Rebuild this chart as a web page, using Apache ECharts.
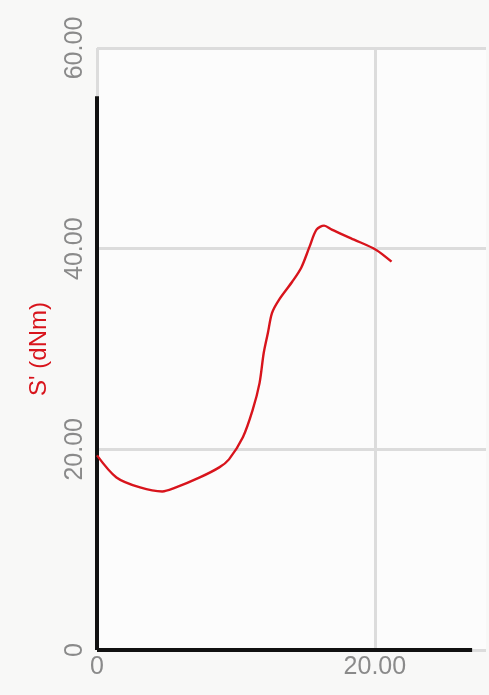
<!DOCTYPE html>
<html><head><meta charset="utf-8">
<script src="https://cdn.jsdelivr.net/npm/echarts@6/dist/echarts.min.js"></script>
<style>html,body{margin:0;padding:0;background:#f8f8f7;overflow:hidden}#c{width:489px;height:695px}</style>
</head><body><div id="c"></div>
<script>
const timeMin = [0, 1.4, 3.1, 4.7, 5.5, 7.4, 8.8, 9.5, 10.5, 11.2, 11.7, 12.0, 12.3, 12.6, 13.1, 14.05, 14.7, 15.3, 15.8, 16.35, 16.9, 18.5, 20.07, 21.2];
const torque  = [19.4, 17.2, 16.2, 15.8, 16.1, 17.2, 18.2, 19.0, 21.2, 23.9, 26.6, 29.6, 31.6, 33.6, 34.9, 36.7, 38.1, 40.2, 41.9, 42.3, 41.9, 40.9, 39.9, 38.7];
const yTicks = [0, 20, 40, 60];
const xTicks = [0, 20];
const yName = "S' (dNm)";

const chart = echarts.init(document.getElementById('c'));
const pts = timeMin.map((t, i) => [t, torque[i]]);
const gray = { color: '#dcdcdc', width: 3, type: 'solid' };
const black = { color: '#111', width: 4, type: 'solid' };
chart.setOption({
  backgroundColor: '#f8f8f7',
  animation: false,
  grid: { left: 97, right: 0, top: 48, bottom: 45, show: true, backgroundColor: '#fcfcfc', borderWidth: 0, borderColor: 'transparent' },
  xAxis: {
    type: 'value', min: 0, max: 28, interval: 20,
    axisLine: { show: false }, axisTick: { show: false },
    axisLabel: { color: '#8a8a8a', fontSize: 25, fontFamily: 'Liberation Sans', margin: 5,
      formatter: v => xTicks.includes(v) ? (v === 0 ? '0' : v.toFixed(2)) : '' },
    splitLine: { show: false }
  },
  yAxis: {
    type: 'value', min: 0, max: 60, interval: 20,
    name: yName, nameLocation: 'middle', nameGap: 46,
    nameTextStyle: { color: '#d8141c', fontSize: 24, fontFamily: 'Liberation Sans' },
    axisLine: { show: false }, axisTick: { show: false },
    axisLabel: { rotate: 90, color: '#8a8a8a', fontSize: 25, fontFamily: 'Liberation Sans', margin: 9,
      formatter: v => yTicks.includes(v) ? (v === 0 ? '0' : v.toFixed(2)) : '' },
    splitLine: { show: true, lineStyle: { color: '#dcdcdc', width: 3 } }
  },
  series: [{
    type: 'line', data: pts, smooth: 0.3, showSymbol: false, z: 3,
    lineStyle: { color: '#d8141c', width: 2.4 },
    markLine: {
      silent: true, symbol: 'none', label: { show: false }, z: 2,
      data: [
        [{ coord: [xTicks[0], 0], lineStyle: gray }, { coord: [xTicks[0], 60] }],
        [{ coord: [xTicks[1], 0], lineStyle: gray }, { coord: [xTicks[1], 60] }],
        [{ coord: [0, 0], lineStyle: black }, { coord: [0, 55.2] }],
        [{ coord: [0, 0], lineStyle: black }, { coord: [27, 0] }]
      ]
    }
  }]
});
</script></body></html>
